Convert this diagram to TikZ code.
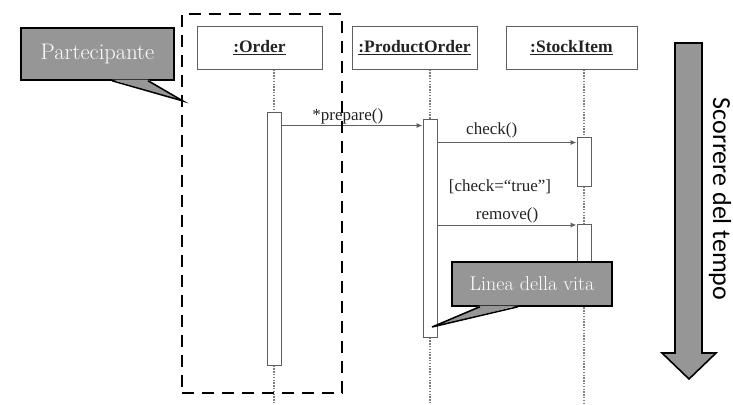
\documentclass[tikz,border=0pt]{standalone}
\usepackage{fontspec}
\newfontfamily\tms{Liberation Serif}
\newfontfamily\carl{Carlito}
\usetikzlibrary{arrows.meta,calc}
\definecolor{callgray}{RGB}{150,150,150}
\definecolor{linegray}{RGB}{95,95,95}
\definecolor{txtgray}{RGB}{35,35,35}
\begin{document}
\begin{tikzpicture}[x=1pt,y=-1pt,
  hdr/.style={draw=linegray,line width=1pt,minimum height=42pt,inner sep=0pt,
    text=txtgray,font=\tms\fontsize{17.5}{20}\selectfont\bfseries},
  act/.style={draw=linegray,fill=white,line width=1pt,minimum width=14pt,inner sep=0pt},
  life/.style={draw=linegray!80,line width=1.4pt,dash pattern=on 1.4pt off 1.4pt},
  msg/.style={draw=linegray,line width=1pt,-{Latex[length=6pt,width=5pt]}},
  mlabel/.style={text=txtgray,font=\tms\fontsize{17}{20}\selectfont,inner sep=1pt},
  frame/.style={draw=black,line width=2.6pt,dash pattern=on 12pt off 8pt,inner sep=0pt},
  callbox/.style={draw=black,fill=callgray,line width=1.5pt,inner sep=0pt,text=white},
  callptr/.style={draw=black,line width=1.5pt,line join=miter},
]
\useasboundingbox (0,0) rectangle (733,404);
\coordinate (bot) at (0,404);

% headers
\node[hdr,minimum width=125pt] (hO) at (259.5,48) {\underline{:Order}};
\node[hdr,minimum width=125pt] (hP) at (414.5,48) {\underline{:ProductOrder}};
\node[hdr,minimum width=131pt] (hS) at (571.5,48) {\underline{:StockItem}};

% activation boxes
\node[act,minimum height=253pt] (actO) at (274,238.5) {};
\node[act,minimum height=218pt] (actP) at (430,228) {};
\node[act,minimum height=49pt] (actS1) at (584,161.5) {};
\node[act,minimum height=66pt] (actS2) at (584,257) {};

% lifelines
\draw[life] (hO.south -| actO.north) -- (actO.north);
\draw[life] (actO.south) -- (actO.south |- bot);
\draw[life] (hP.south -| actP.north) -- (actP.north);
\draw[life] (actP.south) -- (actP.south |- bot);
\draw[life] (hS.south -| actS1.north) -- (actS1.north);
\draw[life] (actS1.south) -- (actS2.north);
\draw[life] (actS2.south) -- (actS2.south |- bot);

% messages
\coordinate (m1) at ([yshift=-14pt]actO.north east);
\draw[msg] (m1) -- node[mlabel,pos=0.47,above] {*prepare()} (m1 -| actP.west);
\coordinate (m2) at ([yshift=-6pt]actS1.north west);
\draw[msg] (m2 -| actP.east) -- node[mlabel,pos=0.39,above=3pt] {check()} (m2);
\node[mlabel] (guard) at (500,187) {[check=“true”]};
\coordinate (m3) at ([yshift=-1.5pt]actS2.north west);
\draw[msg] (m3 -| actP.east) -- node[mlabel,above] {remove()} (m3);

% participant frame
\node[frame,minimum width=160pt,minimum height=379pt] (grp) at (262,203.5) {};

% callout: Partecipante
\node[callbox,minimum width=153pt,minimum height=52pt,font=\fontsize{22.5}{26}\selectfont] (cP) at (97.5,54) {Partecipante};
\coordinate (tipP) at (183,101);
\fill[callgray] ([xshift=14.5pt,yshift=1.2pt]cP.south) -- (tipP) -- ([xshift=50.5pt,yshift=1.2pt]cP.south) -- cycle;
\draw[callptr] ([xshift=14.5pt]cP.south) -- (tipP) -- ([xshift=50.5pt]cP.south);

% callout: Linea della vita
\node[callbox,minimum width=160pt,minimum height=44pt,font=\fontsize{20}{24}\selectfont] (cL) at (532,284) {Linea della vita};
\coordinate (tipL) at (432,327);
\fill[callgray] ([xshift=-52pt,yshift=1.2pt]cL.south) -- (tipL) -- ([xshift=-14pt,yshift=1.2pt]cL.south) -- cycle;
\draw[callptr] ([xshift=-52pt]cL.south) -- (tipL) -- ([xshift=-14pt]cL.south);

% time arrow
\filldraw[fill=callgray,draw=black,line width=1.6pt,line join=miter]
  (675,43) -- (702,43) -- (702,353) -- (716,353) -- (689,379) -- (662,353) -- (675,353) -- cycle;
\node[rotate=-90,font=\carl\fontsize{26}{30}\selectfont,text=black] (tlabel) at (720,199) {Scorrere del tempo};
\end{tikzpicture}
\end{document}
